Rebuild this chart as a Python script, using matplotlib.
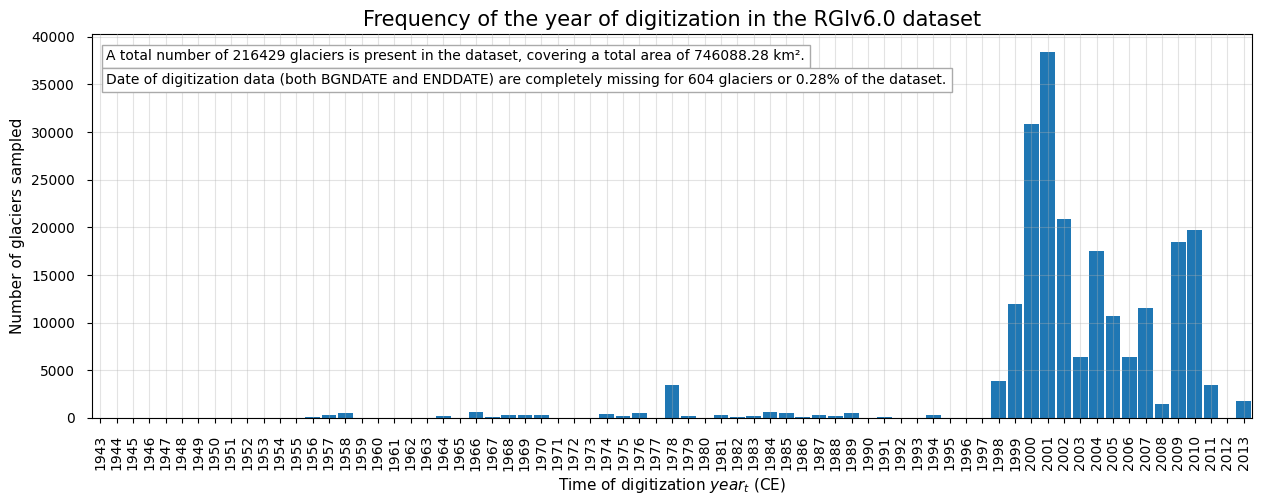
import matplotlib
matplotlib.use("Agg")
import matplotlib.pyplot as plt
import numpy as np

years = list(range(1943, 2014))
counts_by_year = {
    1956: 100, 1957: 350, 1958: 560,
    1964: 250, 1966: 670, 1967: 100, 1968: 320, 1969: 320, 1970: 320,
    1974: 420, 1975: 210, 1976: 530, 1978: 3470, 1979: 210,
    1981: 320, 1982: 100, 1983: 210, 1984: 630, 1985: 530, 1986: 100,
    1987: 320, 1988: 210, 1989: 530, 1991: 100, 1994: 320,
    1998: 3900, 1999: 12000, 2000: 30860, 2001: 38350, 2002: 20870,
    2003: 6380, 2004: 17530, 2005: 10660, 2006: 6450, 2007: 11490,
    2008: 1470, 2009: 18470, 2010: 19720, 2011: 3470, 2013: 1790,
}
counts = [counts_by_year.get(y, 0) for y in years]
year_labels = [str(y) for y in years]

title = "Frequency of the year of digitization in the RGIv6.0 dataset"
note1 = "A total number of 216429 glaciers is present in the dataset, covering a total area of 746088.28 km²."
note2 = "Date of digitization data (both BGNDATE and ENDDATE) are completely missing for 604 glaciers or 0.28% of the dataset."

fig = plt.figure(figsize=(12.62, 5.03), dpi=100)
ax = fig.add_axes([0.0729, 0.169, 0.9191, 0.763])
x = np.arange(len(years))
ax.bar(x, counts, width=0.9, color="#1f77b4")
ax.set_xlim(-0.5, len(years) - 0.5)
ax.set_xticks(x)
ax.set_xticklabels(year_labels, rotation=90, fontsize=10)
ax.tick_params(axis="both", labelsize=10, length=3.8, pad=8.5)
ax.grid(True, color="#b0b0b0", alpha=0.35, linewidth=0.8)
ax.set_axisbelow(False)
ax.set_title(title, fontsize=15)
ax.set_xlabel("Time of digitization $year_t$ (CE)", fontsize=11)
ax.set_ylabel("Number of glaciers sampled", fontsize=11)

bbox = dict(boxstyle="square,pad=0.35", facecolor="white", edgecolor="#aaaaaa", linewidth=1)
ax.text(0.0125, 0.942, note1, transform=ax.transAxes, fontsize=10, va="center", ha="left", bbox=bbox)
ax.text(0.0125, 0.88, note2, transform=ax.transAxes, fontsize=10, va="center", ha="left", bbox=bbox)

fig.savefig("out.png", dpi=100)
